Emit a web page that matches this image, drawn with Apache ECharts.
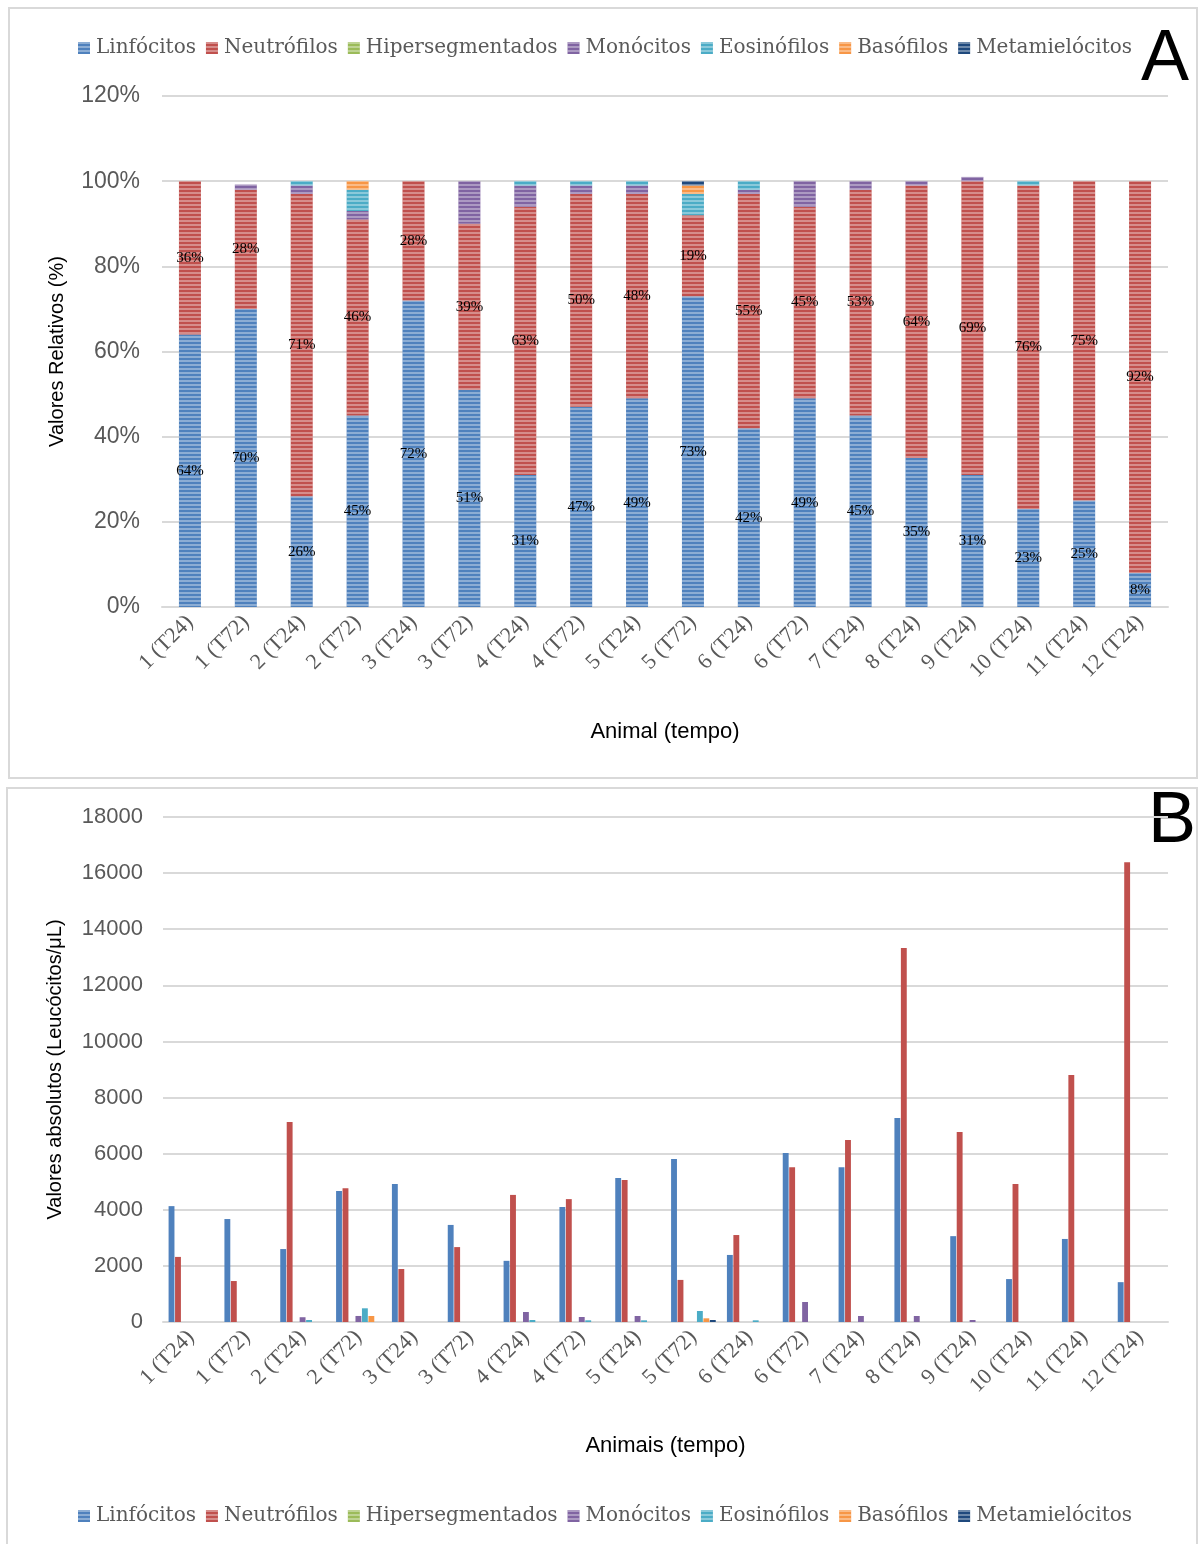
<!DOCTYPE html>
<html><head><meta charset="utf-8">
<script src="https://cdn.jsdelivr.net/npm/echarts@6/dist/echarts.min.js"></script>
<style>html,body{margin:0;padding:0;background:#fff}#c{width:1199px;height:1544px}</style>
</head><body><div id="c"></div>
<script>
const categories = ['1 (T24)','1 (T72)','2 (T24)','2 (T72)','3 (T24)','3 (T72)','4 (T24)','4 (T72)','5 (T24)','5 (T72)','6 (T24)','6 (T72)','7 (T24)','8 (T24)','9 (T24)','10 (T24)','11 (T24)','12 (T24)'];
const seriesNames = ['Linfócitos','Neutrófilos','Hipersegmentados','Monócitos','Eosinófilos','Basófilos','Metamielócitos'];
const colors = ['#4F81BD','#C0504D','#9BBB59','#8064A2','#4BACC6','#F79646','#1F497D'];

// Panel A: relative values (%)
const relLinf  = [64,70,26,45,72,51,31,47,49,73,42,49,45,35,31,23,25,8];
const relNeut  = [36,28,71,46,28,39,63,50,48,19,55,45,53,64,69,76,75,92];
const relHiper = [0,0,0,0,0,0,0,0,0,0,0,0,0,0,0,0,0,0];
const relMono  = [0,1.2,2,2,0,10,5,2,2,0,1,6,2,1,1,0,0,0];
const relEos   = [0,0,1,5,0,0,1,1,1,5,2,0,0,0,0,1,0,0];
const relBaso  = [0,0,0,2,0,0,0,0,0,2,0,0,0,0,0,0,0,0];
const relMeta  = [0,0,0,0,0,0,0,0,0,1,0,0,0,0,0,0,0,0];

// Panel B: absolute values (leucócitos/µL)
const absLinf  = [4130,3670,2600,4670,4920,3460,2180,4100,5130,5810,2390,6020,5520,7270,3060,1530,2960,1420];
const absNeut  = [2320,1460,7130,4770,1890,2670,4530,4380,5060,1500,3100,5520,6490,13330,6770,4920,8800,16390];
const absHiper = [0,0,0,0,0,0,0,0,0,0,0,0,0,0,0,0,0,0];
const absMono  = [0,0,170,215,0,0,356,178,214,0,0,713,214,214,71,0,0,0];
const absEos   = [0,0,71,488,0,0,71,60,60,392,60,0,0,0,0,0,0,0];
const absBaso  = [0,0,0,214,0,0,0,0,0,131,0,0,0,0,0,0,0,0];
const absMeta  = [0,0,0,0,0,0,0,0,0,71,0,0,0,0,0,0,0,0];

const yTicksA = {min:0,max:120,interval:20};
const yTicksB = {min:0,max:18000,interval:2000};

const relData = [relLinf,relNeut,relHiper,relMono,relEos,relBaso,relMeta];
const absData = [absLinf,absNeut,absHiper,absMono,absEos,absBaso,absMeta];

const gray = '#595959';
const serif = 'Liberation Serif';
const sans = 'Liberation Sans';
const decal = {symbol:'rect', symbolSize:1, dashArrayX:[[1,0]], dashArrayY:[2,2], color:'rgba(255,255,255,0.35)', rotation:0};

const series = [];
relData.forEach((d,i)=>{
  series.push({
    name: seriesNames[i], type:'bar', stack:'rel', xAxisIndex:0, yAxisIndex:0,
    data:d, barWidth:22,
    itemStyle:{color:colors[i], decal:decal},
    label:{show:i<2, position:'inside', color:'#000', fontFamily:serif, fontSize:15, formatter:p=>Math.round(p.value)+'%'}
  });
});
absData.forEach((d,i)=>{
  series.push({
    name: seriesNames[i], type:'bar', xAxisIndex:1, yAxisIndex:1,
    data:d, barGap:'10%', barCategoryGap:'20%',
    itemStyle:{color:colors[i]}
  });
});

const xAxisCommon = {
  type:'category', data:categories,
  axisTick:{show:false},
  axisLine:{show:true, lineStyle:{color:'#d9d9d9', width:2}},
  axisLabel:{rotate:45, color:gray, fontFamily:serif, fontSize:22, margin:12, interval:0},
  nameLocation:'middle', nameTextStyle:{color:'#000', fontFamily:sans, fontSize:22}
};
const yAxisCommon = {
  type:'value',
  splitLine:{lineStyle:{color:'#d9d9d9', width:2}},
  axisLine:{show:false}, axisTick:{show:false},
  nameLocation:'middle', nameTextStyle:{color:'#000', fontFamily:sans, fontSize:20}
};

const legendCommon = {
  data:seriesNames, itemWidth:12, itemHeight:12, itemGap:10,
  textStyle:{color:gray, fontFamily:'DejaVu Serif', fontSize:20, padding:[0,0,0,1]},
  icon:'rect', selectedMode:false
};

const option = {
  animation:false,
  color:colors,
  graphic:[
    {type:'rect', shape:{x:9,y:8,width:1188,height:770}, style:{fill:'none', stroke:'#d9d9d9', lineWidth:2}},
    {type:'rect', shape:{x:7,y:788,width:1190,height:760}, style:{fill:'none', stroke:'#d9d9d9', lineWidth:2}},
    {type:'text', left:1141, top:24, style:{text:'A', font:'72px Liberation Sans', fill:'#000'}},
    {type:'text', left:1148, top:786, style:{text:'B', font:'72px Liberation Sans', fill:'#000'}}
  ],
  legend:[
    Object.assign({top:33, left:73}, legendCommon),
    Object.assign({top:1501, left:73}, legendCommon)
  ],
  grid:[
    {left:162, right:31, top:96, height:511},
    {left:163, right:31, top:817, height:505}
  ],
  xAxis:[
    Object.assign({gridIndex:0, name:'Animal (tempo)', nameGap:114}, xAxisCommon),
    Object.assign({gridIndex:1, name:'Animais (tempo)', nameGap:113}, xAxisCommon)
  ],
  yAxis:[
    Object.assign({gridIndex:0, min:yTicksA.min, max:yTicksA.max, interval:yTicksA.interval, name:'Valores Relativos (%)', nameGap:95,
      axisLabel:{formatter:'{value}%', color:gray, fontFamily:sans, fontSize:23, margin:22}}, yAxisCommon),
    Object.assign({gridIndex:1, min:yTicksB.min, max:yTicksB.max, interval:yTicksB.interval, name:'Valores absolutos (Leucócitos/μL)', nameGap:98,
      axisLabel:{formatter:v=>String(v), color:gray, fontFamily:sans, fontSize:22, margin:20}}, yAxisCommon)
  ],
  series:series
};
const chart = echarts.init(document.getElementById('c'), null, {renderer:'canvas'});
chart.setOption(option);
</script></body></html>
